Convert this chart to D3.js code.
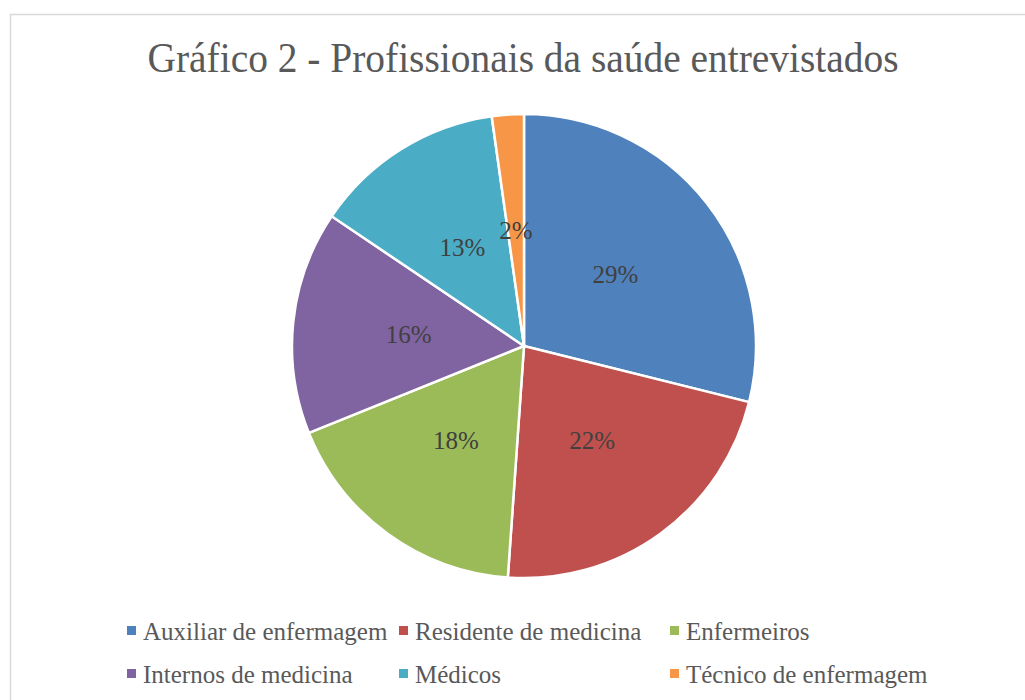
<!DOCTYPE html>
<meta charset="utf-8">
<style>
body { margin: 0; background: #fff; }
text { font-family: "Liberation Serif", "DejaVu Serif", serif; }
</style>
<svg width="1025" height="700"></svg>
<script src="https://d3js.org/d3.v7.min.js"></script>
<script>

// data (counts giving 29/22/18/16/13/2 %)
var categories = ["Auxiliar de enfermagem", "Residente de medicina", "Enfermeiros",
                  "Internos de medicina", "Médicos", "Técnico de enfermagem"];
var values = [13, 10, 8, 7, 6, 1];
var colors = ["#4F81BD", "#C0504D", "#9BBB59", "#8064A2", "#4BACC6", "#F79646"];
var title = "Gráfico 2 - Profissionais da saúde entrevistados";

var svg = d3.select("svg");

// chart border
svg.append("rect")
  .attr("x", 10.5).attr("y", 14.5)
  .attr("width", 1030).attr("height", 700)
  .attr("fill", "none")
  .attr("stroke", "#d9d9d9")
  .attr("stroke-width", 1.5);

svg.append("text")
  .attr("x", 523).attr("y", 72)
  .attr("text-anchor", "middle")
  .attr("fill", "#595959")
  .attr("font-size", 42)
  .attr("textLength", 751)
  .attr("lengthAdjust", "spacingAndGlyphs")
  .text(title);

var cx = 524, cy = 346, radius = 232;

var data = categories.map(function(c, i) { return {name: c, value: values[i], color: colors[i]}; });
var total = d3.sum(values);

var pie = d3.pie().sort(null).value(function(d) { return d.value; });
var arc = d3.arc().innerRadius(0).outerRadius(radius);

var g = svg.append("g").attr("transform", "translate(" + cx + "," + cy + ")");

g.selectAll("path")
  .data(pie(data))
  .enter().append("path")
  .attr("d", arc)
  .attr("fill", function(d) { return d.data.color; })
  .attr("stroke", "#fff")
  .attr("stroke-width", 2.5);

g.selectAll("text.lbl")
  .data(pie(data))
  .enter().append("text")
  .attr("class", "lbl")
  .attr("transform", function(d) { return "translate(" + arc.centroid(d) + ")"; })
  .attr("text-anchor", "middle")
  .attr("dy", "0.35em")
  .attr("fill", "#404040")
  .attr("font-size", 25)
  .text(function(d) { return Math.round(d.data.value / total * 100) + "%"; });

// legend: 3 columns x 2 rows
var colX = d3.scaleOrdinal().domain([0, 1, 2]).range([127, 399, 670]);
var rowY = d3.scaleOrdinal().domain([0, 1]).range([631, 674]);

var leg = svg.selectAll("g.leg")
  .data(data)
  .enter().append("g")
  .attr("class", "leg")
  .attr("transform", function(d, i) { return "translate(" + colX(i % 3) + "," + rowY(Math.floor(i / 3)) + ")"; });

leg.append("rect")
  .attr("x", 0).attr("y", -5)
  .attr("width", 9).attr("height", 9)
  .attr("fill", function(d) { return d.color; });

leg.append("text")
  .attr("x", 16).attr("y", 0)
  .attr("dy", "0.35em")
  .attr("fill", "#595959")
  .attr("font-size", 25)
  .text(function(d) { return d.name; });

</script>
